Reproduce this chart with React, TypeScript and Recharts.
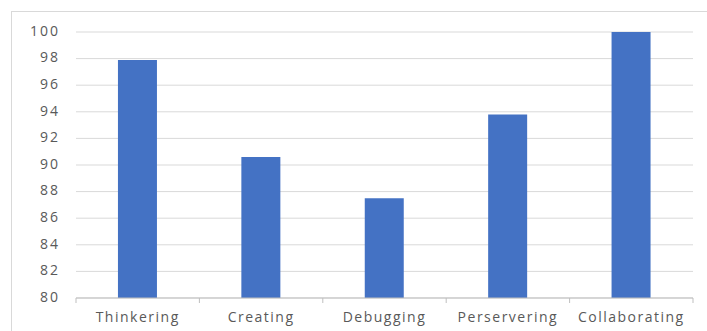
import React from "react";
import { BarChart, Bar, XAxis, YAxis, CartesianGrid } from "recharts";

const categories = ["Thinkering", "Creating", "Debugging", "Perservering", "Collaborating"];
const scores = [97.9, 90.6, 87.5, 93.8, 100];
const yTicks = [80, 82, 84, 86, 88, 90, 92, 94, 96, 98, 100];

const data = categories.map((name, i) => ({ name, value: scores[i] }));

const FONT = "'Open Sans', 'Liberation Sans', sans-serif";
const TEXT = "#595959";

const XTick = (props: any) => {
  const { x, y, payload, index, width, visibleTicksCount } = props;
  const band = width && visibleTicksCount ? width / visibleTicksCount : 123.4;
  const left = x - band / 2;
  return (
    <g>
      <line x1={left} x2={left} y1={y} y2={y + 5} stroke="#bfbfbf" />
      {index === visibleTicksCount - 1 && (
        <line x1={x + band / 2} x2={x + band / 2} y1={y} y2={y + 5} stroke="#bfbfbf" />
      )}
      <text x={x} y={y + 20} textAnchor="middle" dominantBaseline="middle" fill={TEXT} fontSize={14} letterSpacing={1.5} fontFamily={FONT}>
        {payload.value}
      </text>
    </g>
  );
};

const YTick = (props: any) => {
  const { x, y, payload } = props;
  return (
    <text x={x} y={y} textAnchor="end" dominantBaseline="middle" fill={TEXT} fontSize={14} letterSpacing={2} fontFamily={FONT}>
      {payload.value}
    </text>
  );
};

export default function App() {
  return (
    <div style={{ position: "absolute", left: 0, top: 0, width: 707, height: 331, background: "#fff", overflow: "hidden" }}>
      <div style={{ position: "absolute", left: 11, top: 11, width: 720, height: 340, border: "1px solid #d9d9d9" }} />
      <div style={{ position: "absolute", left: 0, top: 0 }}>
        <BarChart width={707} height={331} data={data} margin={{ top: 32, right: 14, bottom: 0, left: 0 }} barCategoryGap="34%">
          <CartesianGrid vertical={false} stroke="#d9d9d9" />
          <XAxis
            dataKey="name"
            axisLine={{ stroke: "#bfbfbf" }}
            tickLine={false}
            tickSize={0}
            tickMargin={0}
            tick={<XTick />}
            interval={0}
            height={33}
          />
          <YAxis
            domain={[80, 100]}
            ticks={yTicks}
            axisLine={false}
            tickLine={false}
            tickSize={0}
            tickMargin={16}
            width={76}
            interval={0}
            tick={<YTick />}
          />
          <Bar dataKey="value" fill="#4472C4" isAnimationActive={false} />
        </BarChart>
      </div>
    </div>
  );
}
